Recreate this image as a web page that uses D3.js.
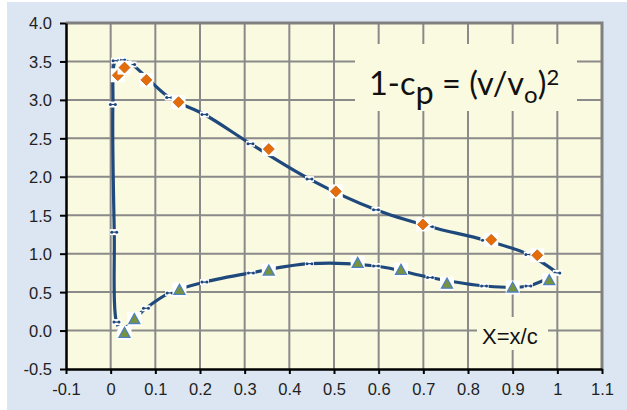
<!DOCTYPE html>
<html>
<head>
<meta charset="utf-8">
<script src="https://cdn.jsdelivr.net/npm/d3@7"></script>
<style>
  body { margin: 0; background: #fff; }
  svg { display: block; }
</style>
</head>
<body>
<div id="chart"><svg width="627" height="410"></svg></div>
<script>
// smooth fitted curve (small markers), going round the profile from the trailing edge
const curveX = [1.0, 0.935, 0.838, 0.715, 0.594, 0.445, 0.313, 0.21, 0.131, 0.048, 0.026, 0.011, 0.005, 0.008, 0.013, 0.024, 0.079, 0.132, 0.21, 0.314, 0.445, 0.594, 0.715, 0.836, 0.935, 1.0];
const curveY = [0.75, 0.99, 1.175, 1.35, 1.57, 1.97, 2.43, 2.81, 3.03, 3.46, 3.52, 3.51, 2.94, 1.28, 0.11, 0.01, 0.29, 0.49, 0.63, 0.75, 0.87, 0.84, 0.69, 0.58, 0.58, 0.75];

// upper surface points (diamonds)
const upperX = [0.016, 0.031, 0.08, 0.152, 0.354, 0.504, 0.699, 0.852, 0.955];
const upperY = [3.32, 3.42, 3.26, 2.97, 2.36, 1.81, 1.38, 1.18, 0.98];

// lower surface points (triangles)
const lowerX = [0.031, 0.053, 0.154, 0.354, 0.553, 0.65, 0.753, 0.9, 0.982];
const lowerY = [-0.03, 0.15, 0.53, 0.78, 0.88, 0.79, 0.61, 0.56, 0.655];

const xTicks = [-0.1, 0, 0.1, 0.2, 0.3, 0.4, 0.5, 0.6, 0.7, 0.8, 0.9, 1.0, 1.1];
const yTicks = [-0.5, 0, 0.5, 1.0, 1.5, 2.0, 2.5, 3.0, 3.5, 4.0];

(function () {
  const margin = { top: 23, left: 66 },
        width = 536,
        height = 346;

  const root = d3.select("#chart svg");

  // outer panel
  root.append("rect")
    .attr("x", 7).attr("y", 2)
    .attr("width", 620).attr("height", 408)
    .attr("fill", "#dce6f2");

  const svg = root.append("g")
    .attr("transform", `translate(${margin.left}, ${margin.top})`);

  const x = d3.scaleLinear().domain([-0.1, 1.1]).range([0, width]);
  const y = d3.scaleLinear().domain([-0.5, 4.0]).range([height, 0]);

  svg.append("rect")
    .attr("width", width).attr("height", height)
    .attr("fill", "#fafae0");

  // grid
  svg.selectAll(".vgrid")
    .data(xTicks.slice(1))
    .enter().append("line")
    .attr("x1", d => x(d)).attr("x2", d => x(d))
    .attr("y1", 0).attr("y2", height)
    .attr("stroke", "#8a8a8a").attr("stroke-width", 2);

  svg.selectAll(".hgrid")
    .data(yTicks.slice(1))
    .enter().append("line")
    .attr("x1", 0).attr("x2", width)
    .attr("y1", d => y(d)).attr("y2", d => y(d))
    .attr("stroke", "#8a8a8a").attr("stroke-width", 2);

  // plot border (top / right)
  svg.append("path")
    .attr("d", `M0,0H${width}V${height}`)
    .attr("fill", "none")
    .attr("stroke", "#808080")
    .attr("stroke-width", 3);

  // text boxes (cover grid)
  svg.append("rect")
    .attr("x", 355 - margin.left).attr("y", 44 - margin.top)
    .attr("width", 222).attr("height", 67)
    .attr("fill", "#fafae0");

  svg.append("rect")
    .attr("x", 477 - margin.left).attr("y", 317 - margin.top)
    .attr("width", 71).attr("height", 33)
    .attr("fill", "#fafae0");

  const formula = svg.append("text")
    .attr("x", 369 - margin.left)
    .attr("y", 95 - margin.top)
    .style("font-family", "Lato, 'Open Sans', sans-serif")
    .style("font-size", "32.5px")
    .style("fill", "#111");
  formula.append("tspan").text("1-c");
  formula.append("tspan").attr("dy", 9).text("p");
  formula.append("tspan").attr("dy", -9).text(" = (v/v");
  formula.append("tspan").attr("dy", 8).style("font-size", "24px").text("o");
  formula.append("tspan").attr("dy", -8).text(")");
  formula.append("tspan").attr("dy", -10).style("font-size", "22px").text("2");

  svg.append("text")
    .attr("x", 482 - margin.left)
    .attr("y", 344 - margin.top)
    .style("font-family", "'Liberation Sans', Arial, sans-serif")
    .style("font-size", "22px")
    .style("fill", "#111")
    .text("X=x/c");

  // axes
  const yAxis = svg.append("g")
    .call(d3.axisLeft(y).tickValues(yTicks).tickSize(6).tickSizeOuter(0)
      .tickFormat(d => d.toFixed(1)));
  const xAxis = svg.append("g")
    .attr("transform", `translate(0, ${height})`)
    .call(d3.axisBottom(x).tickValues(xTicks).tickSize(5).tickSizeOuter(0)
      .tickFormat(d => Math.abs(d) < 1e-9 ? "0" : String(+d.toFixed(1))));

  [yAxis, xAxis].forEach(a => {
    a.select(".domain").attr("stroke", "#000").attr("stroke-width", 2.5);
    a.selectAll(".tick line").attr("stroke", "#000").attr("stroke-width", 2);
    a.selectAll("text")
      .style("font-family", "'Liberation Sans', Arial, sans-serif")
      .style("font-size", "16.5px")
      .style("fill", "#222");
  });
  yAxis.selectAll("text").attr("x", -14).attr("dy", "0.36em");
  xAxis.selectAll("text").attr("y", 14);

  // curve
  const pts = curveX.map((d, i) => [d, curveY[i]]);
  svg.append("path")
    .datum(pts)
    .attr("fill", "none")
    .attr("stroke", "#1f497d")
    .attr("stroke-width", 3.2)
    .attr("d", d3.line().x(d => x(d[0])).y(d => y(d[1])).curve(d3.curveCatmullRom.alpha(0.5)));

  const small = svg.selectAll(".small")
    .data(pts.slice(0, -1))
    .enter().append("g")
    .attr("transform", d => `translate(${x(d[0])}, ${y(d[1])})`);
  small.append("rect")
    .attr("x", -4.5).attr("y", -3).attr("width", 9).attr("height", 6)
    .attr("fill", "#fff");
  small.append("line")
    .attr("x1", -2.5).attr("x2", 2.5)
    .attr("stroke", "#1f497d").attr("stroke-width", 1.2);
  small.selectAll("circle")
    .data([-2.5, 2.5])
    .enter().append("circle")
    .attr("cx", d => d).attr("r", 1.5)
    .attr("fill", "#1f497d");

  // diamonds
  const dia = svg.selectAll(".dia")
    .data(upperX.map((d, i) => [d, upperY[i]]))
    .enter().append("g")
    .attr("transform", d => `translate(${x(d[0])}, ${y(d[1])})`);
  dia.append("rect")
    .attr("x", -7).attr("y", -7).attr("width", 14).attr("height", 14)
    .attr("fill", "#fff");
  dia.append("path")
    .attr("d", "M0,-5.5L5.5,0L0,5.5L-5.5,0Z")
    .attr("fill", "#e46c0a")
    .attr("stroke", "#c0600f").attr("stroke-width", 0.8);

  // triangles
  const tri = svg.selectAll(".tri")
    .data(lowerX.map((d, i) => [d, lowerY[i]]))
    .enter().append("g")
    .attr("transform", d => `translate(${x(d[0])}, ${y(d[1])})`);
  tri.append("rect")
    .attr("x", -7).attr("y", -7).attr("width", 14).attr("height", 14)
    .attr("fill", "#fff");
  tri.append("path")
    .attr("d", "M0,-5.5L5.5,4.5L-5.5,4.5Z")
    .attr("fill", "#77933c")
    .attr("stroke", "#4f81bd").attr("stroke-width", 1.3);
})();
</script>
</body>
</html>
